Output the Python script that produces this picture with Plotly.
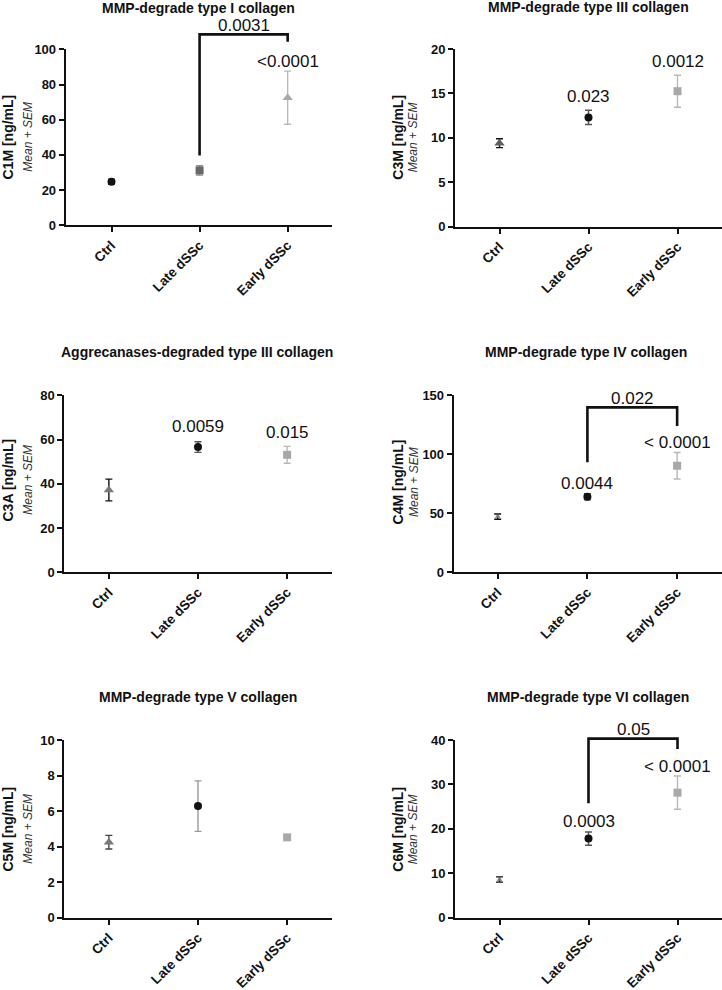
import plotly.graph_objects as go

W, H = 722, 990
FONT = "Liberation Sans, Arial, sans-serif"

groups = ["Ctrl", "Late dSSc", "Early dSSc"]

titles = ["MMP-degrade type I collagen", "MMP-degrade type III collagen",
          "Aggrecanases-degraded type III collagen", "MMP-degrade type IV collagen",
          "MMP-degrade type V collagen", "MMP-degrade type VI collagen"]
ylabels = ["C1M [ng/mL]", "C3M [ng/mL]", "C3A [ng/mL]", "C4M [ng/mL]", "C5M [ng/mL]", "C6M [ng/mL]"]

c1m_mean = [24.8, 31.2, 72.5]
c1m_sem = [1.3, 2.7, 15.1]
c3m_mean = [9.4, 12.3, 15.25]
c3m_sem = [0.5, 0.8, 1.8]
c3a_mean = [37.2, 56.6, 53.1]
c3a_sem = [4.9, 2.4, 3.8]
c4m_mean = [47.2, 64.0, 90.3]
c4m_sem = [2.2, 2.6, 11.2]
c5m_mean = [4.25, 6.28, 4.52]
c5m_sem = [0.38, 1.42, 0.1]
c6m_mean = [8.6, 17.8, 28.15]
c6m_sem = [0.6, 1.5, 3.75]

y_max = [100, 20, 80, 150, 10, 40]
y_step = [20, 5, 20, 50, 2, 10]

# p-values above groups: (group index, text, y)
pvals = [
    [(2, "<0.0001", 93.3)],
    [(1, "0.023", 14.6), (2, "0.0012", 18.6)],
    [(1, "0.0059", 65.8), (2, "0.015", 63.3)],
    [(1, "0.0044", 75.4), (2, "< 0.0001", 110.2)],
    [],
    [(1, "0.0003", 21.6), (2, "< 0.0001", 34.1)],
]
# brackets Late vs Early: (left bottom, top, right bottom, label, label y)
brackets = [
    (39.6, 108.5, 104.3, "0.0031", 113.8),
    None,
    None,
    (93.2, 139.8, 124.0, "0.022", 147.5),
    None,
    (25.75, 40.3, 38.0, "0.05", 42.4),
]

means = [c1m_mean, c3m_mean, c3a_mean, c4m_mean, c5m_mean, c6m_mean]
sems = [c1m_sem, c3m_sem, c3a_sem, c4m_sem, c5m_sem, c6m_sem]

BLACK = "#111111"
DARK = "#676767"
MID = "#7a7a7a"
LIGHT = "#a8a8a8"
LIGHTERR = "#b8b8b8"

# marker styles per panel per group: (symbol, size, colour, error colour)
styles = [
    [("circle", 8, BLACK, BLACK), ("square", 8, DARK, "#8a8a8a"), ("triangle-up", 9, LIGHT, LIGHTERR)],
    [("triangle-up", 9, "#5e5e5e", BLACK), ("circle", 8, BLACK, "#555555"), ("square", 8, LIGHT, LIGHTERR)],
    [("triangle-up", 9, MID, BLACK), ("circle", 8, BLACK, "#555555"), ("square", 8, LIGHT, LIGHTERR)],
    [("triangle-up", 5, MID, BLACK), ("circle", 8, BLACK, "#555555"), ("square", 8, LIGHT, LIGHTERR)],
    [("triangle-up", 9, MID, "#444444"), ("circle", 8, BLACK, "#9a9a9a"), ("square", 8, LIGHT, LIGHTERR)],
    [("triangle-up", 5, MID, BLACK), ("circle", 8, BLACK, "#555555"), ("square", 8, LIGHT, LIGHTERR)],
]

# layout geometry in pixels: (x_left, x_right, y_top, y_bottom, x range start)
geom = [
    (65.7, 331.7, 49.3, 225.3, -0.52),
    (455.0, 722.0, 49.0, 226.7, -0.50),
    (64.3, 331.7, 395.3, 572.3, -0.50),
    (453.7, 722.0, 395.3, 572.3, -0.49),
    (64.3, 331.7, 740.0, 917.7, -0.50),
    (455.0, 722.0, 740.0, 917.7, -0.50),
]
title_pos = [(199, 8), (588, 7), (197, 352), (586, 352), (198, 697), (588, 697)]
ylab_pos = [(7.5, 27.7, 137), (397.7, 413.3, 137), (7.5, 27.7, 480),
            (397.7, 413.3, 481.7), (7.5, 27.7, 829), (397.7, 413.3, 829)]

fig = go.Figure()
annotations = []
shapes = []

for p in range(6):
    ax = "" if p == 0 else str(p + 1)
    xl, xr, yt, yb, x0 = geom[p]
    x1 = 2.5
    dx0, dx1 = xl / W, xr / W
    dy0, dy1 = 1 - yb / H, 1 - yt / H

    def px(i, x0=x0, x1=x1, dx0=dx0, dx1=dx1):
        return dx0 + (i - x0) / (x1 - x0) * (dx1 - dx0)

    def py(v, p=p, dy0=dy0, dy1=dy1):
        return dy0 + v / y_max[p] * (dy1 - dy0)

    for g in range(3):
        sym, size, col, ecol = styles[p][g]
        fig.add_trace(go.Scatter(
            x=[groups[g]], y=[means[p][g]],
            mode="markers",
            marker=dict(symbol=sym, size=size, color=col, line=dict(width=0)),
            error_y=dict(type="data", array=[sems[p][g]], visible=True,
                         color=ecol, thickness=1.4, width=3.5),
            xaxis="x" + ax, yaxis="y" + ax, showlegend=False, cliponaxis=False,
        ))
    axis_common = dict(showline=True, linecolor=BLACK, linewidth=2,
                       ticks="outside", ticklen=5, tickwidth=1.6, tickcolor=BLACK,
                       showgrid=False, zeroline=False, automargin=False)
    fig.update_layout(**{
        "xaxis" + ax: dict(domain=[dx0, dx1], anchor="y" + ax,
                           range=[x0, x1], type="category",
                           categoryorder="array", categoryarray=groups,
                           tickangle=-45,
                           tickfont=dict(family=FONT, size=13.5, color=BLACK, weight="bold"),
                           **axis_common),
        "yaxis" + ax: dict(domain=[dy0, dy1], anchor="x" + ax,
                           range=[0, y_max[p]], tickmode="linear", tick0=0,
                           dtick=y_step[p],
                           tickfont=dict(family=FONT, size=13, color=BLACK, weight="bold"),
                           **axis_common),
    })
    tx, ty = title_pos[p]
    annotations.append(dict(text=titles[p], x=tx / W, y=1 - ty / H, xref="paper", yref="paper",
                            showarrow=False, xanchor="center", yanchor="middle",
                            font=dict(family=FONT, size=14, color=BLACK, weight="bold")))
    lx1, lx2, ly = ylab_pos[p]
    annotations.append(dict(text=ylabels[p], x=lx1 / W, y=1 - ly / H, xref="paper", yref="paper",
                            showarrow=False, textangle=-90, xanchor="center", yanchor="middle",
                            font=dict(family=FONT, size=14, color=BLACK, weight="bold")))
    annotations.append(dict(text="Mean + SEM", x=lx2 / W, y=1 - ly / H, xref="paper", yref="paper",
                            showarrow=False, textangle=-90, xanchor="center", yanchor="middle",
                            font=dict(family=FONT, size=12, color="#333333", style="italic")))
    for g, txt, yv in pvals[p]:
        annotations.append(dict(text=txt, x=px(g), y=py(yv), xref="paper", yref="paper",
                                showarrow=False, xanchor="center", yanchor="middle",
                                font=dict(family=FONT, size=17, color=BLACK)))
    br = brackets[p]
    if br:
        lb, top, rb, lab, laby = br
        path = "M {:.5f},{:.5f} L {:.5f},{:.5f} L {:.5f},{:.5f} L {:.5f},{:.5f}".format(
            px(1), py(lb), px(1), py(top), px(2), py(top), px(2), py(rb))
        shapes.append(dict(type="path", path=path, xref="paper", yref="paper",
                           line=dict(color=BLACK, width=2.6)))
        annotations.append(dict(text=lab, x=px(1.5), y=py(laby), xref="paper", yref="paper",
                                showarrow=False, xanchor="center", yanchor="middle",
                                font=dict(family=FONT, size=17, color=BLACK)))

fig.update_layout(template="none", width=W, height=H,
                  margin=dict(l=0, r=0, t=0, b=0, pad=0, autoexpand=False),
                  paper_bgcolor="white", plot_bgcolor="white",
                  annotations=annotations, shapes=shapes, showlegend=False)

fig.write_html("out.html", config={"displayModeBar": False},
               post_script="document.body.style.margin='0';document.body.style.overflow='hidden';")
